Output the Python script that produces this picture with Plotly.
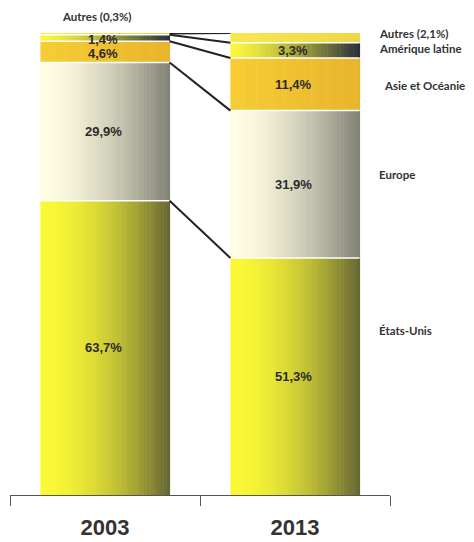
import plotly.graph_objects as go

years = ["2003", "2013"]
regions = ["États-Unis", "Europe", "Asie et Océanie", "Amérique latine", "Autres"]
v2003 = [63.7, 29.9, 4.6, 1.4, 0.3]
v2013 = [51.3, 31.9, 11.4, 3.3, 2.1]
text2003 = ["63,7%", "29,9%", "4,6%", "1,4%", ""]
text2013 = ["51,3%", "31,9%", "11,4%", "3,3%", ""]

# gradient colours (left -> right) per region
grad = {
    "États-Unis": ((250, 248, 52), (104, 104, 52), 1.8),
    "Europe": ((255, 253, 225), (130, 130, 118), 1.6),
    "Asie et Océanie": ((246, 205, 52), (232, 180, 44), 1.0),
    "Amérique latine": ((250, 245, 60), (40, 48, 58), 1.4),
    "Autres": ((248, 232, 80), (236, 214, 70), 1.0),
}

W = 0.68
N = 40


def interp(c1, c2, t):
    return "rgb(%d,%d,%d)" % tuple(round(a + (b - a) * t) for a, b in zip(c1, c2))


vals = [v2003, v2013]
bases = []
for v in vals:
    b, acc = [], 0.0
    for x in v:
        b.append(acc)
        acc += x
    bases.append(b)

fig = go.Figure()
for i, r in enumerate(regions):
    c1, c2, g = grad[r]
    for k in range(N):
        t = (k / (N - 1)) ** g
        fig.add_trace(go.Bar(
            x=years,
            y=[vals[0][i], vals[1][i]],
            base=[bases[0][i], bases[1][i]],
            width=W / N * 1.15,
            offset=-W / 2 + k * W / N,
            marker=dict(color=interp(c1, c2, t), line=dict(width=0)),
            showlegend=False, hoverinfo="skip",
        ))

shapes = []
# white separators and connector lines
for i in range(1, len(regions)):
    for j in range(2):
        y = bases[j][i]
        shapes.append(dict(type="line", xref="x", yref="y", x0=j - W / 2, x1=j + W / 2,
                           y0=y, y1=y, line=dict(color="white", width=1.5)))
for i in range(len(regions)):
    y0 = bases[0][i] + vals[0][i]
    y1 = bases[1][i] + vals[1][i]
    shapes.append(dict(type="line", xref="x", yref="y", x0=W / 2, x1=1 - W / 2,
                       y0=y0, y1=y1, line=dict(color="#222", width=2)))

ann = []
lab_font = dict(family="Liberation Sans", size=13, color="#2b2b2b", weight="bold")
yshifts = {"1,4%": -1, "4,6%": -2}
for j, txts in enumerate([text2003, text2013]):
    for i, t in enumerate(txts):
        if t:
            ann.append(dict(x=j, y=bases[j][i] + vals[j][i] / 2, xref="x", yref="y",
                            text=t, showarrow=False, font=lab_font, xshift=-2,
                            yshift=yshifts.get(t, 0)))

side_font = dict(family="Lato", size=11.5, color="#333", weight="bold")
side = [("Autres (2,1%)", 99.8, 0), ("Amérique latine", 96.6, 0), ("Asie et Océanie", 88.7, 5),
        ("Europe", 69.3, 0), ("États-Unis", 35.7, 0)]
for t, y, dx in side:
    ann.append(dict(x=0.965, y=y, xref="paper", yref="y", text=t, showarrow=False,
                    xanchor="left", font=side_font, xshift=dx))
ann.append(dict(x=0, y=100, xref="x", yref="y", text="Autres (0,3%)", showarrow=False,
                yanchor="bottom", yshift=8, xshift=-8, font=side_font))

fig.update_layout(
    width=466, height=534,
    margin=dict(l=2, r=84, t=25, b=47),
    barmode="overlay",
    plot_bgcolor="white", paper_bgcolor="white",
    shapes=shapes, annotations=ann,
    xaxis=dict(type="category", range=[-0.5, 1.5], showline=True, linecolor="#555", linewidth=1.3,
               ticks="outside", tickson="boundaries", ticklen=10, tickcolor="#555", tickwidth=1.3,
               ticklabelstandoff=12,
               tickfont=dict(family="Liberation Sans", size=22, color="#333", weight="bold"),
               showgrid=False, zeroline=False),
    yaxis=dict(range=[0, 100], visible=False),
)

fig.write_html("out.html")
